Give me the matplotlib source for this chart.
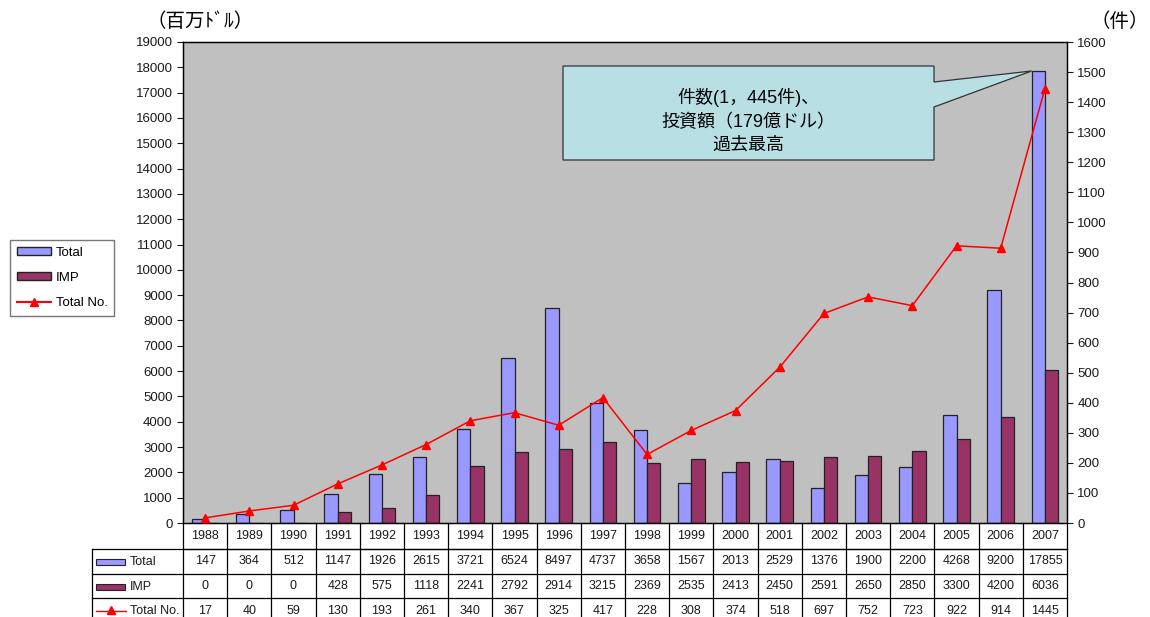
import numpy as np
import matplotlib
matplotlib.use("Agg")
import matplotlib.pyplot as plt
from matplotlib.patches import Polygon, Rectangle
from matplotlib.lines import Line2D

plt.rcParams['font.family'] = ['Liberation Sans', 'Noto Sans CJK JP', 'DejaVu Sans']

years = ["1988", "1989", "1990", "1991", "1992", "1993", "1994", "1995", "1996", "1997",
         "1998", "1999", "2000", "2001", "2002", "2003", "2004", "2005", "2006", "2007"]
total = [147, 364, 512, 1147, 1926, 2615, 3721, 6524, 8497, 4737,
         3658, 1567, 2013, 2529, 1376, 1900, 2200, 4268, 9200, 17855]
imp = [0, 0, 0, 428, 575, 1118, 2241, 2792, 2914, 3215,
       2369, 2535, 2413, 2450, 2591, 2650, 2850, 3300, 4200, 6036]
total_no = [17, 40, 59, 130, 193, 261, 340, 367, 325, 417,
            228, 308, 374, 518, 697, 752, 723, 922, 914, 1445]

W, H = 1150, 617
blue = "#9999FF"
maroon = "#993366"
ink = "#1a1a1a"

def fx(x):
    return x / W

def fy(y):
    return 1 - y / H

fig = plt.figure(figsize=(11.5, 6.17), dpi=100)

# plot area in pixels: left 183, right 1067, top 42, bottom 523
L, R, T, B = 183, 1067, 42, 523
ax = fig.add_axes([fx(L), fy(B), fx(R - L), fy(T) - fy(B)])
ax.set_facecolor("#C0C0C0")

x = np.arange(len(years))
bw = 0.3
ax.bar(x - bw / 2, total, bw, color=blue, edgecolor="#222222", linewidth=0.9, zorder=2)
ax.bar(x + bw / 2, imp, bw, color=maroon, edgecolor="#222222", linewidth=0.9, zorder=2)
ax.set_xlim(-0.5, len(years) - 0.5)
ax.set_ylim(0, 19000)
ax.set_yticks(np.arange(0, 19001, 1000))
ax.set_xticks([])
ax.tick_params(axis='y', direction='out', length=4, labelsize=9.5, colors=ink)

ax2 = ax.twinx()
ax2.plot(x, total_no, color="#FF0000", linewidth=1.1, marker="^", markersize=6,
         zorder=3)
ax2.set_ylim(0, 1600)
ax2.set_yticks(np.arange(0, 1601, 100))
ax2.tick_params(axis='y', direction='out', length=4, labelsize=9.5, colors=ink)
for a in (ax, ax2):
    for s in a.spines.values():
        s.set_color("black")
        s.set_linewidth(0.9)

# axis unit labels
fig.text(fx(200), fy(22), "（百万ﾄﾞﾙ）", fontsize=14, ha="center", va="center")
fig.text(fx(1120), fy(22), "（件）", fontsize=14, ha="center", va="center")

# callout pointing at the top of the 2007 bar
tip_x = L + (19 - bw + 0.5) / 20 * (R - L)
tip_y = B - 17855 / 19000 * (B - T)
pts = [(563, 66), (934, 66), (934, 82), (tip_x, tip_y), (934, 107), (934, 160), (563, 160)]
fig.add_artist(Polygon([(fx(a), fy(b)) for a, b in pts], closed=True,
                       transform=fig.transFigure, facecolor="#B8E0E4",
                       edgecolor="#333333", linewidth=0.9, zorder=5))
fig.text(fx(748), fy(121), "件数(1，445件)、\n投資額（179億ドル）\n過去最高",
         fontsize=13, ha="center", va="center", linespacing=1.45, zorder=6)

# legend on the left
leg = [Rectangle((0, 0), 1, 1, facecolor=blue, edgecolor="#222222"),
       Rectangle((0, 0), 1, 1, facecolor=maroon, edgecolor="#222222"),
       Line2D([], [], color="#FF0000", marker="^", markersize=6)]
fig.legend(leg, ["Total", "IMP", "Total No."], loc="upper left",
           bbox_to_anchor=(fx(10), fy(240)), fontsize=9.5, frameon=True,
           fancybox=False, edgecolor="#555555", handlelength=2.6, handleheight=0.55,
           borderaxespad=0, labelspacing=1.0, borderpad=0.5, handletextpad=0.35)

# data table under the chart
col_w = (R - L) / len(years)
row_tops = [523, 549, 574, 598, 630]
label_left = 92

def hline(x0, x1, y):
    fig.add_artist(Line2D([fx(x0), fx(x1)], [fy(y), fy(y)], color="black",
                          linewidth=0.9, transform=fig.transFigure))

def vline(xp, y0, y1):
    fig.add_artist(Line2D([fx(xp), fx(xp)], [fy(y0), fy(y1)], color="black",
                          linewidth=0.9, transform=fig.transFigure))

hline(L, R, row_tops[1])
for yy in row_tops[1:4]:
    hline(label_left, R, yy)
vline(label_left, row_tops[1], H)
for i in range(len(years) + 1):
    vline(L + i * col_w, row_tops[0], H)

rows = [years, total, imp, total_no]
for r, vals in enumerate(rows):
    yc = (row_tops[r] + row_tops[r + 1]) / 2
    if r == 3:
        yc = 611
    for i, v in enumerate(vals):
        fig.text(fx(L + (i + 0.5) * col_w), fy(yc), str(v), fontsize=9,
                 ha="center", va="center", color=ink)

# row labels with keys
lab_y = [562, 587, 611]
fig.add_artist(Rectangle((fx(96), fy(lab_y[0] + 3)), fx(29), fy(0) - fy(6),
                         facecolor=blue, edgecolor="#222222", linewidth=0.8,
                         transform=fig.transFigure))
fig.add_artist(Rectangle((fx(96), fy(lab_y[1] + 3)), fx(29), fy(0) - fy(6),
                         facecolor=maroon, edgecolor="#222222", linewidth=0.8,
                         transform=fig.transFigure))
fig.add_artist(Line2D([fx(96), fx(126)], [fy(lab_y[2]), fy(lab_y[2])], color="#FF0000",
                      linewidth=1.0, transform=fig.transFigure))
fig.add_artist(Line2D([fx(111)], [fy(lab_y[2] - 1)], color="#FF0000", marker="^",
                      markersize=6, linestyle="none", transform=fig.transFigure))
for txt, yy in zip(["Total", "IMP", "Total No."], lab_y):
    fig.text(fx(130), fy(yy), txt, fontsize=9, ha="left", va="center", color=ink)

fig.savefig("out.png", dpi=100)
